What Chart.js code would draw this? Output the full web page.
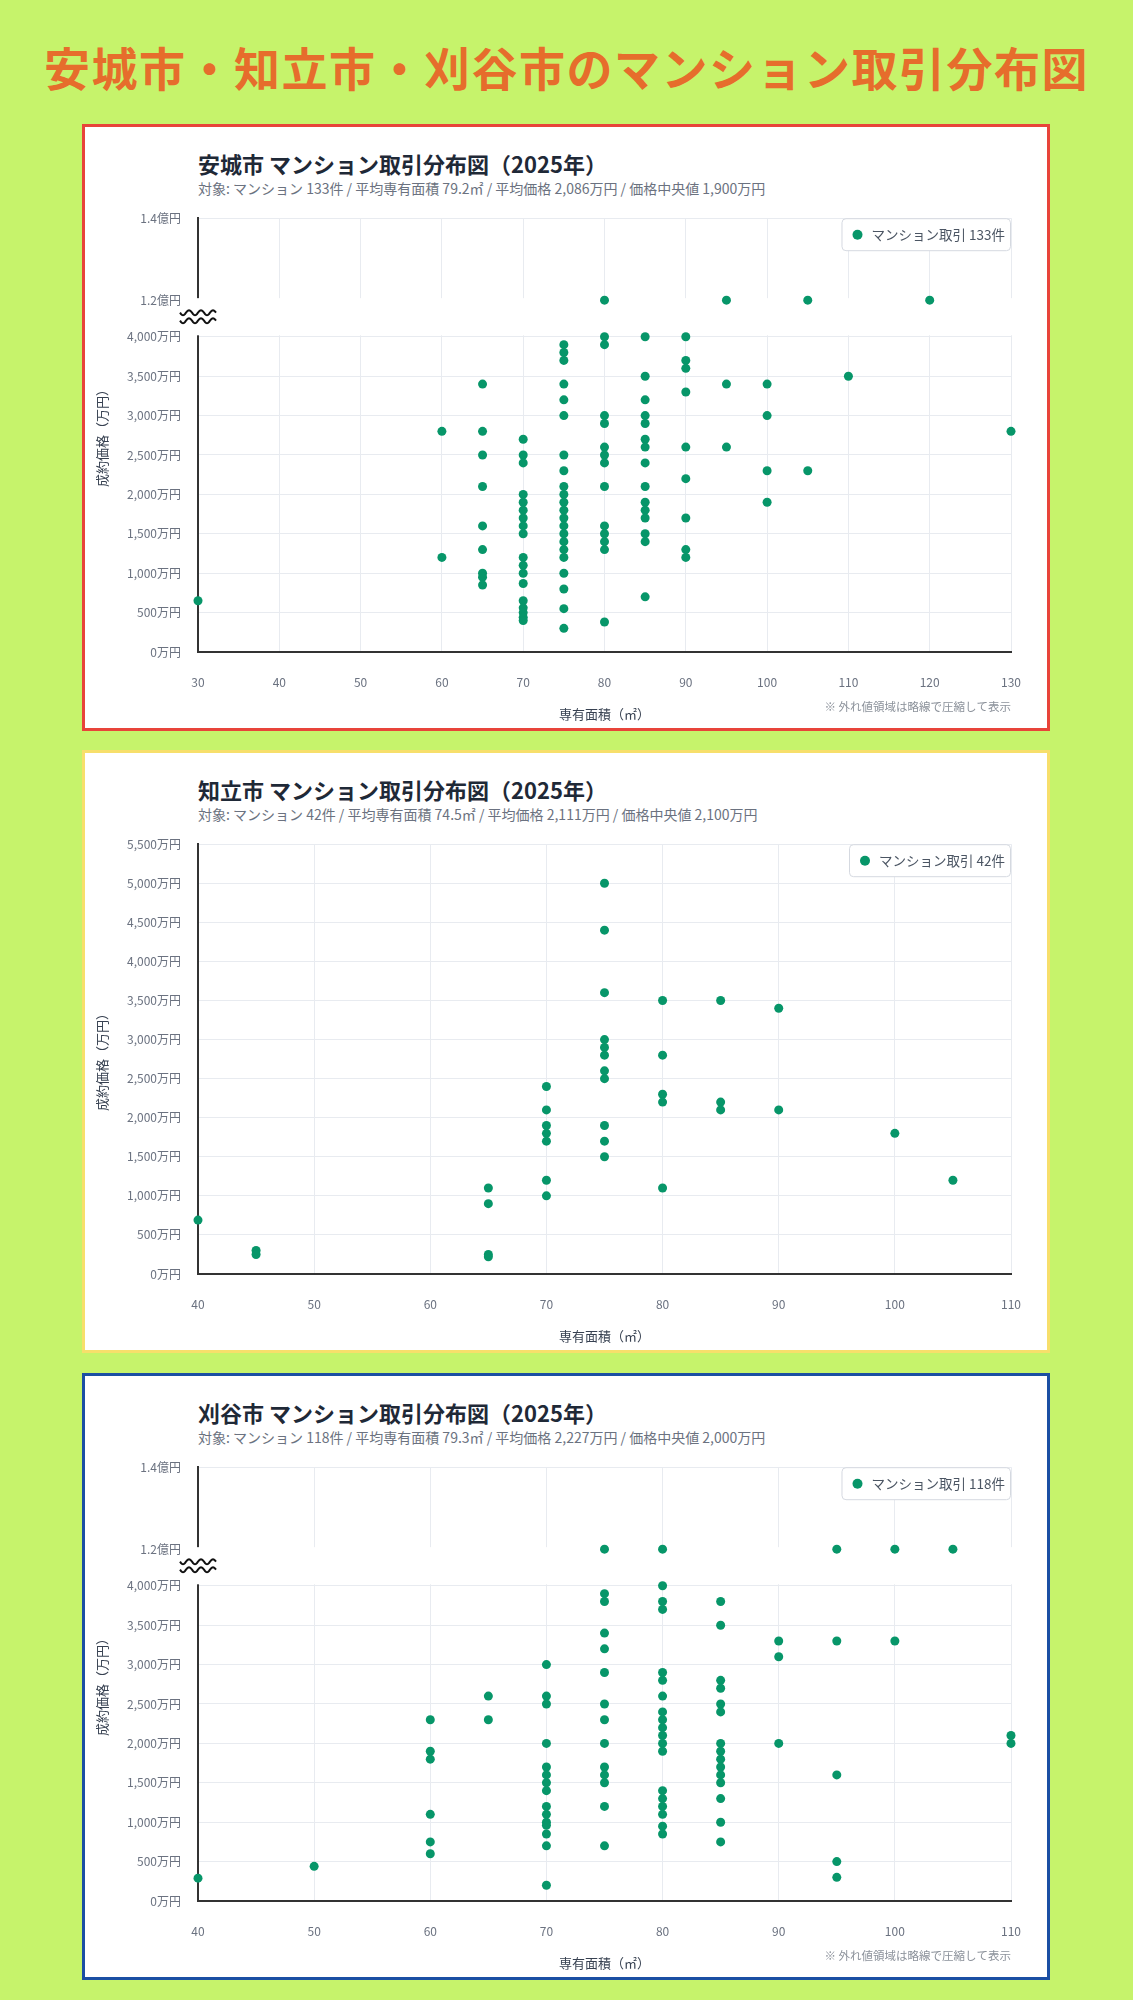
<!DOCTYPE html>
<html lang="ja">
<head>
<meta charset="utf-8">
<script src="https://cdn.jsdelivr.net/npm/chart.js@4.4.1/dist/chart.umd.min.js"></script>
<style>
  html, body { margin: 0; padding: 0; }
  body { width: 1133px; height: 2000px; background: #c6f36b; position: relative; overflow: hidden;
         font-family: "Noto Sans CJK JP", "Noto Sans", sans-serif; }
  h1 { position: absolute; left: 0; right: 0; top: 36px; margin: 0; text-align: center;
       font-size: 46px; line-height: 60px; font-weight: 700; color: #e66d2c; letter-spacing: 1.5px; }
  .card { position: absolute; left: 82px; width: 968px; box-sizing: border-box; border: 3px solid; background: #fff; }
  .card h2 { position: absolute; left: 113px; top: 22px; margin: 0; font-size: 22px; line-height: 28px; color: #1f2937; font-weight: 700; }
  .card p { position: absolute; left: 113px; top: 52px; margin: 0; font-size: 14px; line-height: 18px; color: #6b7280; }
  .plot { position: absolute; left: 0; top: 67px; width: 962px; }
</style>
</head>
<body>
<h1>安城市・知立市・刈谷市のマンション取引分布図</h1>

<div class="card" style="top:124px;height:607px;border-color:#e8443a;">
  <h2>安城市 マンション取引分布図（2025年）</h2>
  <p>対象: マンション 133件 / 平均専有面積 79.2㎡ / 平均価格 2,086万円 / 価格中央値 1,900万円</p>
  <div class="plot" style="height:535px;"><canvas id="anjo"></canvas></div>
</div>

<div class="card" style="top:750px;height:603px;border-color:#f7df6b;">
  <h2>知立市 マンション取引分布図（2025年）</h2>
  <p>対象: マンション 42件 / 平均専有面積 74.5㎡ / 平均価格 2,111万円 / 価格中央値 2,100万円</p>
  <div class="plot" style="height:531px;"><canvas id="chiryu"></canvas></div>
</div>

<div class="card" style="top:1373px;height:607px;border-color:#1b4fa3;">
  <h2>刈谷市 マンション取引分布図（2025年）</h2>
  <p>対象: マンション 118件 / 平均専有面積 79.3㎡ / 平均価格 2,227万円 / 価格中央値 2,000万円</p>
  <div class="plot" style="height:535px;"><canvas id="kariya"></canvas></div>
</div>

<script>
// 専有面積（㎡）ごとの成約価格（万円）。12000 = 1.2億円
const anjoAreas = [30, 60, 65, 70, 75, 80, 85, 90, 95, 100, 105, 110, 120, 130];
const anjoPrices = [
  [650],
  [2800, 1200],
  [3400, 2800, 2500, 2100, 1600, 1300, 1000, 950, 850],
  [2700, 2500, 2400, 2000, 1900, 1800, 1700, 1600, 1500, 1200, 1100, 1000, 870, 650, 560, 500, 440, 400],
  [3900, 3800, 3700, 3400, 3200, 3000, 2500, 2300, 2100, 2000, 1900, 1800, 1700, 1600, 1500, 1400, 1300, 1200, 1000, 800, 550, 300],
  [12000, 4000, 3900, 3000, 2900, 2600, 2500, 2400, 2100, 1600, 1500, 1400, 1300, 380],
  [4000, 3500, 3200, 3000, 2900, 2700, 2600, 2400, 2100, 1900, 1800, 1700, 1500, 1400, 700],
  [4000, 3700, 3600, 3300, 2600, 2200, 1700, 1300, 1200],
  [12000, 3400, 2600],
  [3400, 3000, 2300, 1900],
  [12000, 2300],
  [3500],
  [12000],
  [2800]
];

const chiryuAreas = [40, 45, 65, 70, 75, 80, 85, 90, 100, 105];
const chiryuPrices = [
  [690],
  [300, 250],
  [1100, 900, 250, 220],
  [2400, 2100, 1900, 1800, 1700, 1200, 1000],
  [5000, 4400, 3600, 3000, 2900, 2800, 2600, 2500, 1900, 1700, 1500],
  [3500, 2800, 2300, 2200, 1100],
  [3500, 2200, 2100],
  [3400, 2100],
  [1800],
  [1200]
];

const kariyaAreas = [40, 50, 60, 65, 70, 75, 80, 85, 90, 95, 100, 105, 110];
const kariyaPrices = [
  [290],
  [440],
  [2300, 1900, 1800, 1100, 750, 600],
  [2600, 2300],
  [3000, 2600, 2500, 2000, 1700, 1600, 1500, 1400, 1200, 1100, 1000, 960, 850, 700, 200],
  [12000, 3900, 3800, 3400, 3200, 2900, 2500, 2300, 2000, 1700, 1600, 1500, 1200, 700],
  [12000, 4000, 3800, 3700, 2900, 2800, 2600, 2400, 2300, 2200, 2100, 2000, 1900, 1400, 1300, 1200, 1100, 950, 850],
  [3800, 3500, 2800, 2700, 2500, 2400, 2000, 1900, 1800, 1700, 1600, 1500, 1300, 1000, 750],
  [3300, 3100, 2000],
  [12000, 3300, 1600, 500, 300],
  [12000, 3300],
  [12000],
  [2100, 2000]
];

// 略線より上の目盛り（万円）
const outlierTicks = [12000, 14000];
const outlierTickLabels = ['1.2億円', '1.4億円'];

const POINT_COLOR = '#079669';
const TICK_COLOR = '#6b7280';
const FONT = '"Noto Sans CJK JP", "Noto Sans", sans-serif';
Chart.defaults.font.family = FONT;

// 4,000万円より上は略線で圧縮して描く
const BREAK_LOW = 4000, BREAK_HIGH = 4465, HIGH_SPAN = 1040;
function squash(v) {
  return v <= BREAK_LOW ? v : BREAK_HIGH + (v - outlierTicks[0]) / (outlierTicks[1] - outlierTicks[0]) * HIGH_SPAN;
}

function toPoints(areas, prices, broken) {
  const pts = [];
  areas.forEach((a, i) => prices[i].forEach(p => pts.push({ x: a, y: broken ? squash(p) : p })));
  return pts;
}

function yTicks(yMax, broken) {
  const vals = [];
  for (let v = 0; v <= (broken ? BREAK_LOW : yMax); v += 500) vals.push(v);
  if (broken) outlierTicks.forEach(t => vals.push(squash(t)));
  return vals;
}

function yLabel(v, broken) {
  if (broken && v > BREAK_LOW) {
    const i = outlierTicks.findIndex(t => Math.abs(squash(t) - v) < 1);
    return i >= 0 ? outlierTickLabels[i] : null;
  }
  return v.toLocaleString('ja-JP') + '万円';
}

const axisBreak = {
  id: 'axisBreak',
  beforeDatasetsDraw(chart, args, opts) {
    if (!opts.on) return;
    const { ctx, chartArea, scales: { y } } = chart;
    const top = y.getPixelForValue(BREAK_HIGH) - 2;
    const bottom = y.getPixelForValue(BREAK_LOW) - 1.5;
    ctx.save();
    ctx.fillStyle = '#fff';
    ctx.fillRect(chartArea.left - 4, top, chartArea.right - chartArea.left + 8, bottom - top);
    const cy = (top + bottom) / 2;
    ctx.strokeStyle = '#111';
    ctx.lineWidth = 2;
    [-4, 4].forEach(dy => {
      ctx.beginPath();
      for (let i = 0; i <= 36; i++) {
        const px = chartArea.left - 18 + i;
        const py = cy + dy + Math.sin(i / 36 * Math.PI * 6) * 2.5;
        if (i) ctx.lineTo(px, py); else ctx.moveTo(px, py);
      }
      ctx.stroke();
    });
    ctx.restore();
  }
};

const legendBox = {
  id: 'legendBox',
  afterDatasetsDraw(chart) {
    const { ctx, chartArea } = chart;
    const ds = chart.data.datasets[0];
    ctx.save();
    ctx.font = '13.5px ' + FONT;
    const w = ctx.measureText(ds.label).width + 36, h = 33;
    const x = chartArea.right - w, y = chartArea.top;
    ctx.fillStyle = '#fff';
    ctx.strokeStyle = '#d5d9e0';
    ctx.lineWidth = 1;
    ctx.beginPath();
    ctx.roundRect(x + 0.5, y + 0.5, w - 1, h - 1, 4);
    ctx.fill();
    ctx.stroke();
    ctx.fillStyle = ds.backgroundColor;
    ctx.beginPath();
    ctx.arc(x + 16, y + h / 2, 5, 0, Math.PI * 2);
    ctx.fill();
    ctx.fillStyle = '#4b5563';
    ctx.textBaseline = 'middle';
    ctx.fillText(ds.label, x + 30, y + h / 2 + 0.5);
    ctx.restore();
  }
};

const footnote = {
  id: 'footnote',
  afterDraw(chart, args, opts) {
    if (!opts.text) return;
    const { ctx, chartArea } = chart;
    ctx.save();
    ctx.font = '11.5px ' + FONT;
    ctx.fillStyle = '#8b919a';
    ctx.textAlign = 'right';
    ctx.textBaseline = 'middle';
    ctx.fillText(opts.text, chartArea.right, chart.height - 22);
    ctx.restore();
  }
};

function drawChart(id, areas, prices, xMin, xMax, broken, label) {
  const yMax = broken ? squash(outlierTicks[1]) : 5500;
  return new Chart(document.getElementById(id), {
    type: 'scatter',
    data: {
      datasets: [{
        label: label,
        data: toPoints(areas, prices, broken),
        backgroundColor: POINT_COLOR,
        borderColor: POINT_COLOR,
        borderWidth: 0,
        pointRadius: 4.5,
        pointHoverRadius: 5.5,
        clip: false
      }]
    },
    options: {
      responsive: true,
      maintainAspectRatio: false,
      animation: false,
      layout: { padding: { top: 7, right: 36, left: 0, bottom: 0 } },
      plugins: {
        legend: { display: false },
        axisBreak: { on: broken },
        footnote: { text: broken ? '※ 外れ値領域は略線で圧縮して表示' : '' }
      },
      scales: {
        x: {
          type: 'linear', min: xMin, max: xMax,
          ticks: { stepSize: 10, padding: 23, color: TICK_COLOR, font: { size: 12 } },
          grid: { color: '#e8ebf0', drawTicks: false },
          border: { color: '#333', width: 2 },
          title: { display: true, text: '専有面積（㎡）', color: '#374151', font: { size: 13 }, padding: { top: 4, bottom: 7 } },
          afterFit: s => { s.height = 77; }
        },
        y: {
          type: 'linear', min: 0, max: yMax,
          afterBuildTicks: s => { s.ticks = yTicks(yMax, broken).map(v => ({ value: v })); },
          ticks: { padding: 17, color: TICK_COLOR, font: { size: 12 }, callback: v => yLabel(v, broken) },
          grid: { color: '#e8ebf0', drawTicks: false },
          border: { color: '#333', width: 2 },
          title: { display: true, text: '成約価格（万円）', color: '#374151', font: { size: 13 }, padding: { top: 9, bottom: 0 } },
          afterFit: s => { s.width = 113; }
        }
      }
    },
    plugins: [axisBreak, legendBox, footnote]
  });
}

drawChart('anjo', anjoAreas, anjoPrices, 30, 130, true, 'マンション取引 133件');
drawChart('chiryu', chiryuAreas, chiryuPrices, 40, 110, false, 'マンション取引 42件');
drawChart('kariya', kariyaAreas, kariyaPrices, 40, 110, true, 'マンション取引 118件');
</script>
</body>
</html>
